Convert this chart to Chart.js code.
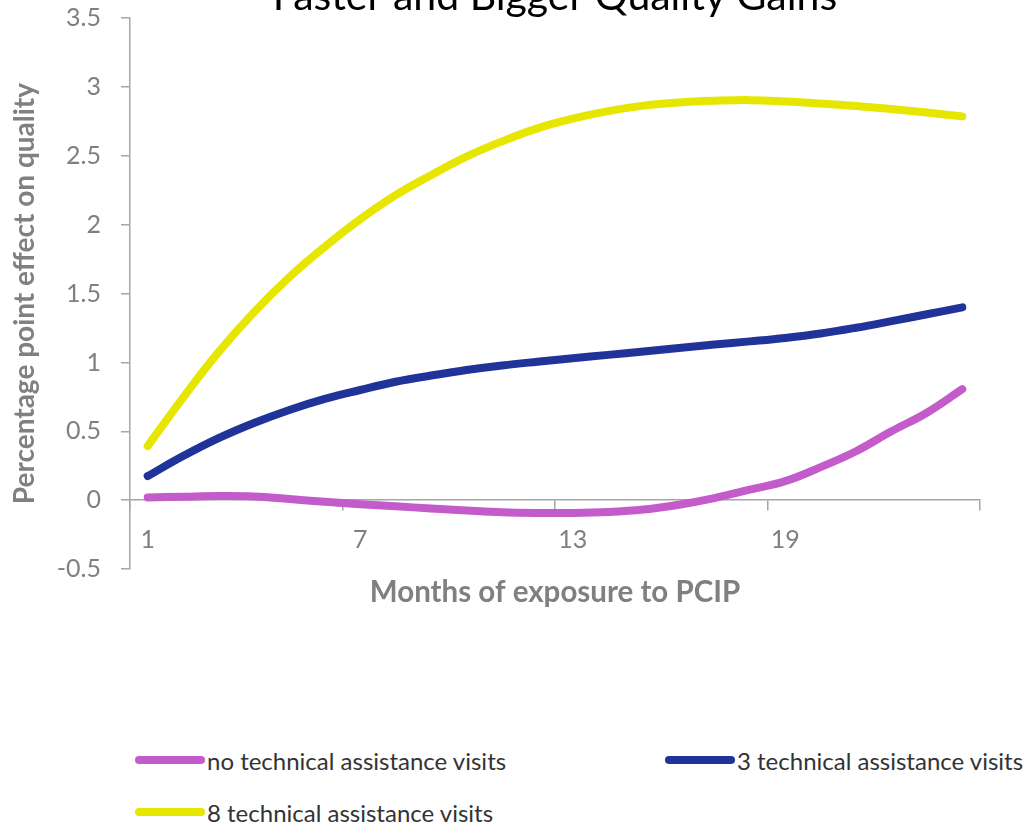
<!DOCTYPE html>
<html>
<head>
<meta charset="utf-8">
<script src="https://cdn.jsdelivr.net/npm/chart.js@4.4.1/dist/chart.umd.min.js"></script>
<style>
  body { margin: 0; background: #fff; width: 1026px; height: 828px; overflow: hidden; position: relative; }
  #box { position: absolute; left: 0; top: -28px; width: 1026px; height: 647px; }
  .legend-item { position: absolute; display: flex; align-items: center; font-family: Lato, sans-serif; font-size: 24px; color: #333; white-space: nowrap; }
  .legend-item span.sw { display: inline-block; width: 70px; height: 8px; border-radius: 4px; margin-right: 2px; }
</style>
</head>
<body>
<div id="box"><canvas id="chart"></canvas></div>
<div id="legend"></div>
<script>
// Данные графика
const months = ['1','2','3','4','5','6','7','8','9','10','11','12','13','14','15','16','17','18','19','20','21','22','23','24']
const shownMonths = ['1','7','13','19']

const noVisits = [0.02, 0.025, 0.03, 0.027, 0.008, -0.012, -0.03, -0.045, -0.06, -0.075, -0.088, -0.093,
                  -0.093, -0.086, -0.068, -0.033, 0.015, 0.076, 0.138, 0.24, 0.355, 0.5, 0.635, 0.806]
const threeVisits = [0.175, 0.32, 0.45, 0.56, 0.655, 0.735, 0.8, 0.86, 0.905, 0.945, 0.978, 1.005,
                     1.03, 1.055, 1.08, 1.105, 1.13, 1.153, 1.178, 1.21, 1.252, 1.3, 1.35, 1.4]
const eightVisits = [0.393, 0.745, 1.075, 1.365, 1.62, 1.84, 2.04, 2.215, 2.36, 2.495, 2.605, 2.7,
                     2.77, 2.825, 2.865, 2.888, 2.9, 2.905, 2.895, 2.88, 2.862, 2.84, 2.815, 2.787]

const FONT = 'Lato, sans-serif'
const AXIS = '#a6a6a6'
const TEXT = '#808080'

// Общие настройки линий
const line = (label, data, color) => ({
    label, data,
    borderColor: color,
    backgroundColor: color,
    borderWidth: 8,
    borderCapStyle: 'round',
    borderJoinStyle: 'round',
    pointRadius: 0,
    tension: 0.4,
    fill: false
})

const chart = new Chart(document.getElementById('chart'), {
    type: 'line',
    data: {
        labels: months,
        datasets: [
            line('no technical assistance visits', noVisits, '#c45bcb'),
            line('3 technical assistance visits', threeVisits, '#1f3399'),
            line('8 technical assistance visits', eightVisits, '#e6e600')
        ]
    },
    options: {
        responsive: true,
        maintainAspectRatio: false,
        animation: false,
        // снизу запас под подпись оси X (ось стоит на нуле)
        layout: { padding: { left: 0, right: 46, top: 0, bottom: 50 } },
        plugins: {
            legend: { display: false },
            tooltip: { enabled: false },
            title: {
                display: true,
                fullSize: false, // центр над областью графика
                text: 'Faster and Bigger Quality Gains',
                color: '#000',
                font: { family: FONT, size: 41, weight: 'normal' },
                padding: { top: 0, bottom: -3 }
            }
        },
        scales: {
            x: {
                position: { y: 0 },
                offset: true,
                grid: {
                    offset: true,
                    drawOnChartArea: false,
                    tickLength: 10,
                    lineWidth: 1.5,
                    // засечки только каждые 6 месяцев
                    color: ctx => (ctx.index === undefined || ctx.index % 6 === 0) ? AXIS : 'rgba(0,0,0,0)'
                },
                border: { display: true, color: AXIS, width: 1.5 },
                ticks: {
                    autoSkip: false,
                    maxRotation: 0,
                    padding: 15,
                    color: TEXT,
                    font: { family: FONT, size: 25 },
                    callback: function (v) {
                        const l = this.getLabelForValue(v)
                        return shownMonths.includes(l) ? l : ''
                    }
                },
                title: {
                    display: true,
                    text: 'Months of exposure to PCIP',
                    color: TEXT,
                    font: { family: FONT, size: 29.5, weight: 'bold' },
                    padding: { top: 5, bottom: 0 }
                }
            },
            y: {
                min: -0.5,
                max: 3.5,
                afterFit: s => { s.width = 130 },
                grid: { drawOnChartArea: false, tickLength: 9, lineWidth: 1.5, color: AXIS },
                border: { display: true, color: AXIS, width: 1.5 },
                ticks: {
                    stepSize: 0.5,
                    padding: 20,
                    color: TEXT,
                    font: { family: FONT, size: 25 },
                    callback: v => String(v)
                },
                title: {
                    display: true,
                    text: 'Percentage point effect on quality',
                    color: TEXT,
                    font: { family: FONT, size: 28, weight: 'bold' },
                    padding: { top: 8, bottom: 0 }
                }
            }
        }
    }
})

// HTML-легенда в две колонки, как в Excel
const legendBox = document.getElementById('legend')
chart.options.plugins.legend.labels.generateLabels(chart).forEach((item, i) => {
    const el = document.createElement('div')
    el.className = 'legend-item'
    el.style.left = (135 + (i % 2) * 530) + 'px'
    el.style.top = (760 - 16 + Math.floor(i / 2) * 52) + 'px'
    el.style.height = '32px'
    const sw = document.createElement('span')
    sw.className = 'sw'
    sw.style.background = item.strokeStyle
    el.append(sw, document.createTextNode(item.text))
    legendBox.append(el)
})
</script>
</body>
</html>
